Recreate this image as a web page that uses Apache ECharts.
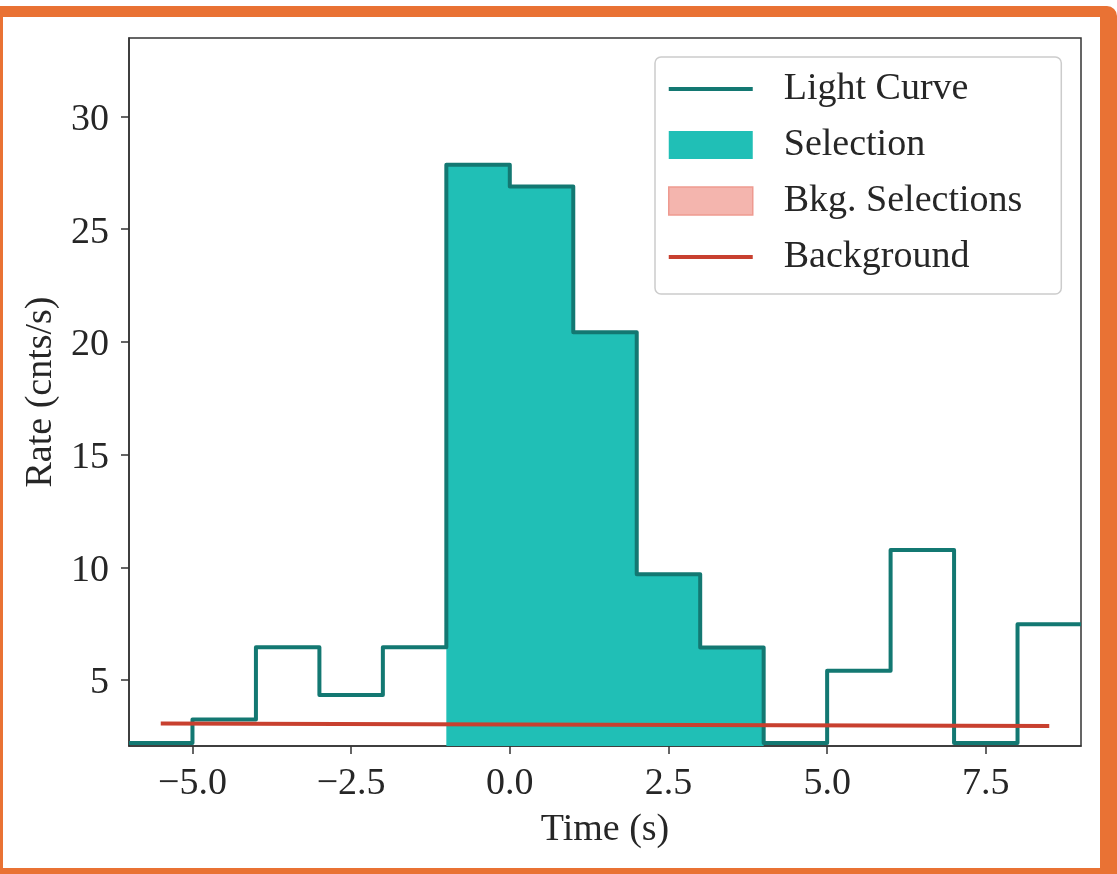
<!DOCTYPE html>
<html><head><meta charset="utf-8">
<script src="https://cdn.jsdelivr.net/npm/echarts@6/dist/echarts.min.js"></script>
<style>
html,body{margin:0;padding:0;background:#fff;overflow:hidden}
#chart{position:absolute;left:0;top:0;width:1117px;height:874px}
#frame{position:absolute;left:-12px;top:6px;width:1129px;height:878px;box-sizing:border-box;border-style:solid;border-color:#E97234;border-width:11px 17px 16px 15px;border-radius:10px;pointer-events:none}
</style></head>
<body>
<div id="chart"></div>
<div id="frame"></div>
<script>
// ---- data ----
const binEdges = [-6, -5, -4, -3, -2, -1, 0, 1, 2, 3, 4, 5, 6, 7, 8, 9];
const rates = [2.2, 3.25, 6.45, 4.33, 6.45, 27.86, 26.89, 20.43, 9.69, 6.44, 2.2, 5.41, 10.77, 2.2, 7.47];
const selectionRange = [-1, 4];
const bkgX = [-5.5, 8.5];
const bkgY = [3.07, 2.96];
const xTicks = [-5, -2.5, 0, 2.5, 5, 7.5];
const yTicks = [5, 10, 15, 20, 25, 30];
const seriesNames = ['Light Curve', 'Selection', 'Bkg. Selections', 'Background'];

// ---- build series data ----
const curve = binEdges.map((e, i) => [e, rates[Math.min(i, rates.length - 1)]]);
const sel = curve.filter(p => p[0] >= selectionRange[0] && p[0] <= selectionRange[1])
  .map((p, i, arr) => i === arr.length - 1 ? [p[0], arr[i - 1][1]] : p);
const bkg = bkgX.map((x, i) => [x, bkgY[i]]);

const FONT = 'Liberation Serif';
const TXT = '#262626';
const AX = '#333333';
const C_LINE = '#137872';
const C_FILL = '#20BFB6';
const C_BKG = '#C8402F';
const C_PINK = '#F4B5AE';
const LINE_ICON = 'path://M0,0H84V4H0Z';

const chart = echarts.init(document.getElementById('chart'), null, {renderer: 'canvas'});
chart.setOption({
  backgroundColor: '#ffffff',
  animation: false,
  grid: {left: 129, right: 36, top: 38, bottom: 128, show: true, borderColor: AX, borderWidth: 1.5, backgroundColor: 'transparent'},
  legend: {
    left: 655, top: 57, orient: 'vertical',
    padding: [13, 39, 18, 13],
    itemWidth: 84, itemHeight: 28, itemGap: 18,
    symbolKeepAspect: true,
    backgroundColor: 'rgba(255,255,255,0.85)', borderColor: '#cccccc', borderWidth: 1.5, borderRadius: 6,
    selectedMode: false,
    textStyle: {fontFamily: FONT, fontSize: 38, color: TXT, padding: [0, 0, 0, 26]},
    data: [
      {name: seriesNames[0], icon: LINE_ICON, itemStyle: {color: C_LINE}},
      {name: seriesNames[1], icon: 'rect', itemStyle: {color: C_FILL}},
      {name: seriesNames[2], icon: 'rect', itemStyle: {color: C_PINK, borderColor: '#EE9A90', borderWidth: 1.5}},
      {name: seriesNames[3], icon: LINE_ICON, itemStyle: {color: C_BKG}}
    ]
  },
  xAxis: {
    type: 'value', min: -6, max: 9,
    name: 'Time (s)', nameLocation: 'middle', nameGap: 65,
    nameTextStyle: {fontFamily: FONT, fontSize: 38, color: TXT},
    axisLine: {show: true, onZero: false, lineStyle: {color: AX, width: 1.5}},
    axisTick: {show: true, length: 8, lineStyle: {color: AX, width: 1.5}, customValues: xTicks},
    axisLabel: {fontFamily: FONT, fontSize: 38, color: TXT, margin: 19, customValues: xTicks,
      formatter: v => v.toFixed(1).replace('-', '\u2212')},
    splitLine: {show: false}
  },
  yAxis: {
    type: 'value', min: 2.07, max: 33.48,
    name: 'Rate (cnts/s)', nameLocation: 'middle', nameGap: 68,
    nameTextStyle: {fontFamily: FONT, fontSize: 38, color: TXT},
    axisLine: {show: true, onZero: false, lineStyle: {color: AX, width: 1.5}},
    axisTick: {show: true, length: 8, lineStyle: {color: AX, width: 1.5}, customValues: yTicks},
    axisLabel: {color: TXT, margin: 20, customValues: yTicks,
      formatter: v => '{t|' + Math.round(v) + '}',
      rich: {t: {fontFamily: FONT, fontSize: 38, color: TXT, padding: [7, 0, 0, 0]}}},
    splitLine: {show: false}
  },
  series: [
    {name: seriesNames[1], type: 'line', step: 'end', data: sel, symbol: 'none',
      itemStyle: {color: C_FILL}, lineStyle: {width: 0, opacity: 0},
      areaStyle: {color: C_FILL, opacity: 1, origin: 'start'}, z: 1},
    {name: seriesNames[2], type: 'line', data: [], symbol: 'none',
      itemStyle: {color: C_PINK}, lineStyle: {color: C_PINK}},
    {name: seriesNames[0], type: 'line', step: 'end', data: curve, symbol: 'none',
      itemStyle: {color: C_LINE}, lineStyle: {color: C_LINE, width: 4, join: 'round'}, z: 3},
    {name: seriesNames[3], type: 'line', data: bkg, symbol: 'none',
      itemStyle: {color: C_BKG}, lineStyle: {color: C_BKG, width: 4}, z: 4}
  ]
});
</script>
</body></html>
